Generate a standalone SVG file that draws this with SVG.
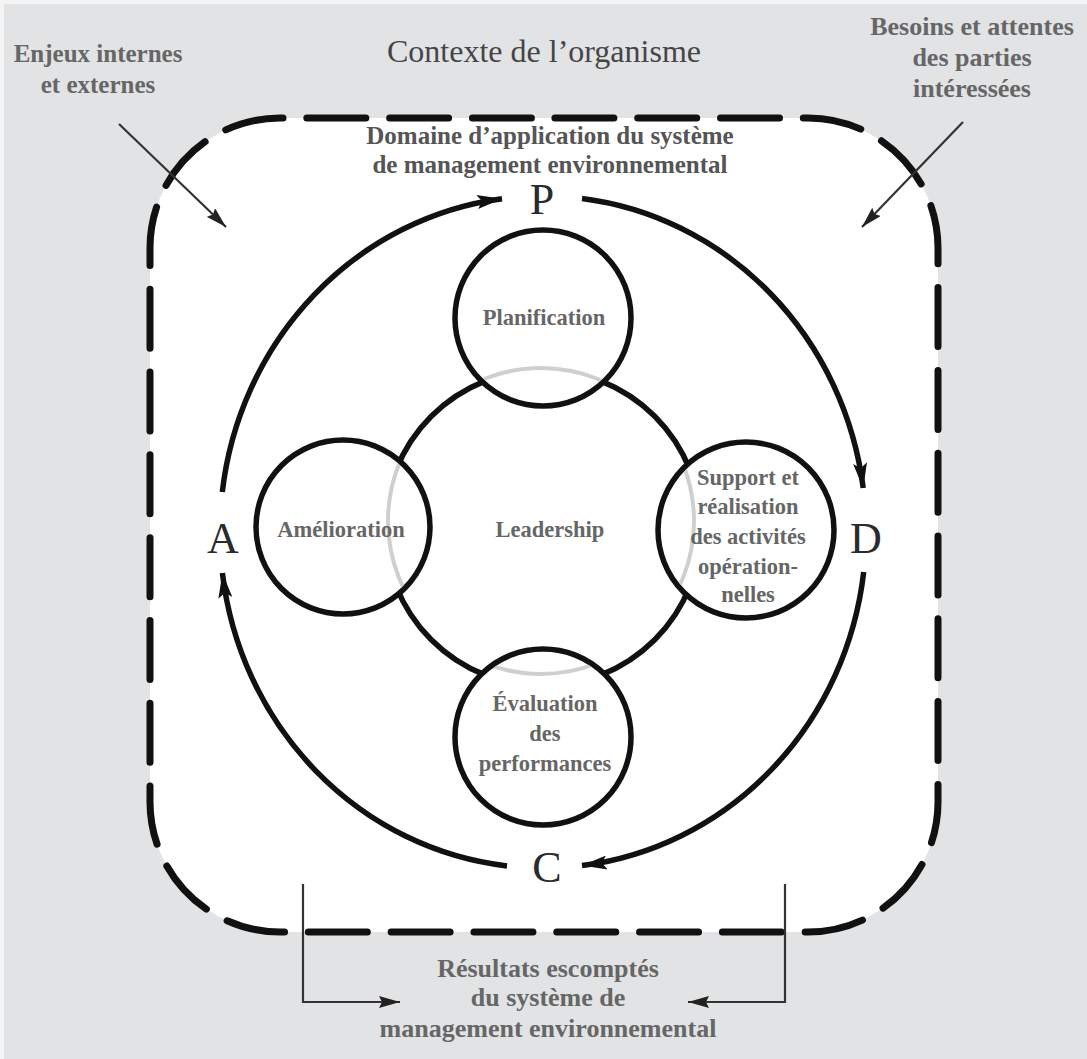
<svg xmlns="http://www.w3.org/2000/svg" width="1087" height="1059" viewBox="0 0 1087 1059">
  <style>
    .lbl { font-family: "Liberation Serif", "DejaVu Serif", serif; font-weight: bold; fill: #666; text-anchor: middle; }
    .big { font-family: "Liberation Serif", "DejaVu Serif", serif; fill: #2b2b2b; text-anchor: middle; font-size: 44px; }
    .node { fill: #fff; stroke: #111; stroke-width: 5.5; }
    .cycle { fill: none; stroke: #111; stroke-width: 5.5; }
    .thin { fill: none; stroke: #333; stroke-width: 2.2; }
  </style>
  <defs>
    <marker id="headBig" markerUnits="userSpaceOnUse" markerWidth="26" markerHeight="14" refX="25" refY="7" orient="auto">
      <path d="M0,0 L25,7 L0,14 L5,7 Z" fill="#111"/>
    </marker>
    <marker id="headSmall" markerUnits="userSpaceOnUse" markerWidth="22" markerHeight="12" refX="21" refY="6" orient="auto">
      <path d="M0,0 L21,6 L0,12 L3,6 Z" fill="#222"/>
    </marker>
    <clipPath id="insideNodes">
      <circle cx="543" cy="318" r="85"/>
      <circle cx="343" cy="527" r="84"/>
      <circle cx="746" cy="530" r="85"/>
      <circle cx="543" cy="737" r="85"/>
    </clipPath>
  </defs>

  <!-- page background -->
  <rect x="0" y="0" width="1087" height="1059" fill="#f4f4f5"/>
  <rect x="4" y="4" width="1083" height="1055" fill="#e2e3e5"/>

  <!-- scope of the management system: dashed rounded frame -->
  <g id="scope">
    <path d="M543,118 H808 A130,130 0 0 1 938,248 V802 A130,130 0 0 1 808,932 H280 A130,130 0 0 1 150,802 V248 A130,130 0 0 1 280,118 Z"
          fill="#fff" stroke="#111" stroke-width="7" stroke-linecap="round" stroke-dasharray="59 23.8" stroke-dashoffset="70.9"/>
  </g>

  <!-- headings -->
  <g id="context">
    <text x="544" y="62" font-family="Liberation Serif, DejaVu Serif, serif" font-size="32" fill="#454545" text-anchor="middle">Contexte de l’organisme</text>
  </g>
  <g id="issues">
    <text class="lbl" font-size="25" x="98" y="62">Enjeux internes</text>
    <text class="lbl" font-size="25" x="98" y="93">et externes</text>
  </g>
  <g id="needs">
    <text class="lbl" font-size="26" x="972" y="35">Besoins et attentes</text>
    <text class="lbl" font-size="26" x="972" y="66">des parties</text>
    <text class="lbl" font-size="26" x="972" y="97">intéressées</text>
  </g>
  <g id="scope-title">
    <text class="lbl" font-size="25" x="550" y="144" style="fill:#555">Domaine d’application du système</text>
    <text class="lbl" font-size="25" x="550" y="173" style="fill:#555">de management environnemental</text>
  </g>
  <g id="outcomes">
    <text class="lbl" font-size="26" x="548" y="977">Résultats escomptés</text>
    <text class="lbl" font-size="26" x="548" y="1006">du système de</text>
    <text class="lbl" font-size="26" x="548" y="1037">management environnemental</text>
  </g>

  <!-- connectors: PDCA cycle, inputs and outputs -->
  <g id="connectors">
    <path class="cycle" d="M222.3,492 A323,336 0 0 1 502,198.7" marker-end="url(#headBig)"/>
    <path class="cycle" d="M582,198.5 A323,336 0 0 1 863.2,488" marker-end="url(#headBig)"/>
    <path class="cycle" d="M863.7,572 A323,336 0 0 1 582,865.6" marker-end="url(#headBig)"/>
    <path class="cycle" d="M507,865.9 A323,336 0 0 1 222.4,573" marker-end="url(#headBig)"/>

    <path class="thin" d="M119,124 L226,227" marker-end="url(#headSmall)"/>
    <path class="thin" d="M963,122 L862,227" marker-end="url(#headSmall)"/>

    <path class="thin" d="M303,884 V1002 H400" marker-end="url(#headSmall)"/>
    <path class="thin" d="M785,884 V1002 H688" marker-end="url(#headSmall)"/>
  </g>

  <!-- PDCA letters -->
  <g id="phase-p"><text class="big" x="542" y="214">P</text></g>
  <g id="phase-d"><text class="big" x="866" y="553">D</text></g>
  <g id="phase-c"><text class="big" x="547" y="882">C</text></g>
  <g id="phase-a"><text class="big" x="223" y="553">A</text></g>

  <!-- central leadership ring -->
  <g id="leadership">
    <circle cx="543" cy="528" r="158" fill="none" stroke="#111" stroke-width="5.5"/>
    <text class="lbl" font-size="22.5" x="550" y="537">Leadership</text>
  </g>

  <g id="planification">
    <circle class="node" cx="543" cy="318" r="88"/>
  </g>
  <g id="amelioration">
    <circle class="node" cx="343" cy="527" r="87"/>
  </g>
  <g id="support">
    <circle class="node" cx="746" cy="530" r="88"/>
  </g>
  <g id="evaluation">
    <circle class="node" cx="543" cy="737" r="88"/>
  </g>

  <!-- faint ghost ring seen through the phase circles -->
  <circle cx="541" cy="521" r="153" fill="none" stroke="#cfcfcf" stroke-width="4" clip-path="url(#insideNodes)"/>

  <!-- phase circle labels -->
  <g id="planification-label">
    <text class="lbl" font-size="22.5" x="544" y="325">Planification</text>
  </g>
  <g id="amelioration-label">
    <text class="lbl" font-size="22.5" x="341" y="537">Amélioration</text>
  </g>
  <g id="support-label">
    <text class="lbl" font-size="22.5" x="748" y="485">Support et</text>
    <text class="lbl" font-size="22.5" x="748" y="514">réalisation</text>
    <text class="lbl" font-size="22.5" x="748" y="544">des activités</text>
    <text class="lbl" font-size="22.5" x="748" y="574">opération-</text>
    <text class="lbl" font-size="22.5" x="748" y="602">nelles</text>
  </g>
  <g id="evaluation-label">
    <text class="lbl" font-size="22.5" x="545" y="711">Évaluation</text>
    <text class="lbl" font-size="22.5" x="545" y="741">des</text>
    <text class="lbl" font-size="22.5" x="545" y="771">performances</text>
  </g>
</svg>
